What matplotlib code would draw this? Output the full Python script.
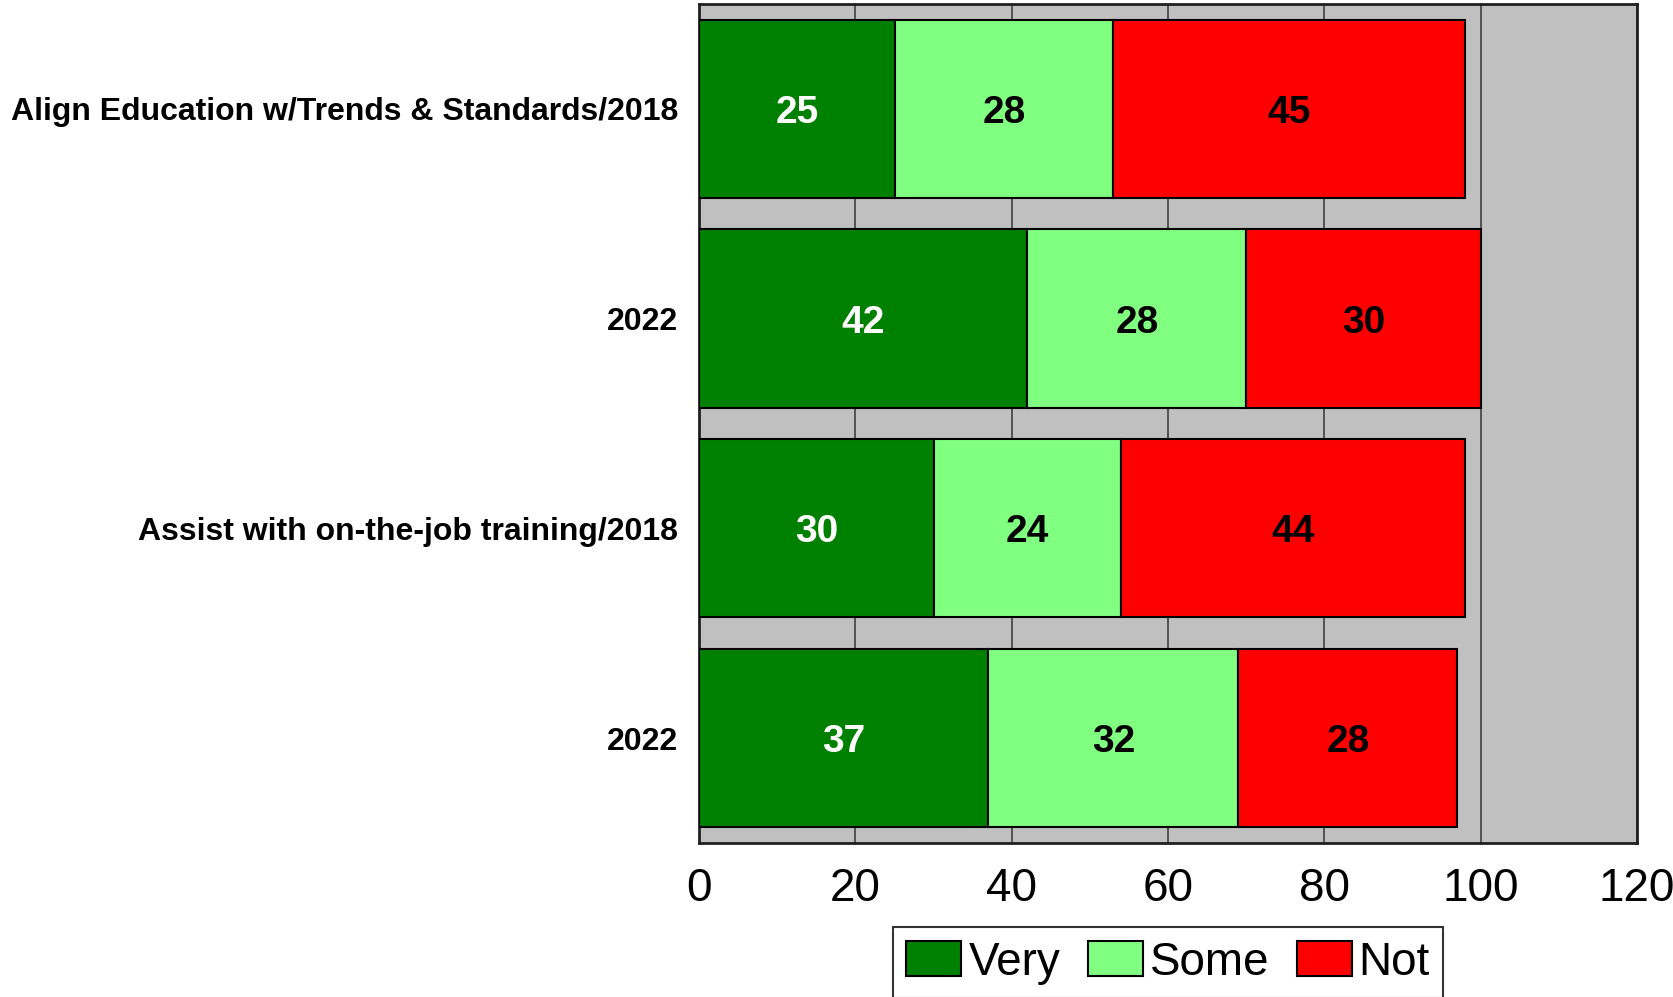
import matplotlib.pyplot as plt
import numpy as np

plt.rcParams['font.family'] = ['Liberation Sans', 'DejaVu Sans']

labels = ['Align Education w/Trends & Standards/2018', '2022',
          'Assist with on-the-job training/2018', '2022']
very = [25, 42, 30, 37]
some = [28, 28, 24, 32]
not_ = [45, 30, 44, 28]
series = ['Very', 'Some', 'Not']
colors = ['#008000', '#80FF80', '#FF0000']
text_colors = ['white', 'black', 'black']

fig = plt.figure(figsize=(16.74, 9.97), dpi=100)
ax = fig.add_axes([0.4176, 0.1545, 0.978 - 0.4176, 0.996 - 0.1545])
ax.set_facecolor('#C0C0C0')

y = np.arange(len(labels))
left = np.zeros(len(labels))
for name, vals, c, tc in zip(series, [very, some, not_], colors, text_colors):
    vals = np.array(vals, dtype=float)
    ax.barh(y, vals, left=left, height=0.85, color=c, edgecolor='black',
            linewidth=1.5, label=name, zorder=3)
    for yi, l, v in zip(y, left, vals):
        ax.text(l + v / 2, yi, str(int(v)), ha='center', va='center_baseline',
                fontsize=28, fontweight='bold', color=tc, zorder=4)
    left += vals

ax.set_xlim(0, 120)
ax.set_ylim(3.5, -0.5)
ax.set_xticks(range(0, 121, 20))
ax.set_yticks(y)
ax.set_yticklabels(labels, fontsize=23, fontweight='bold')
ax.tick_params(axis='x', labelsize=33, length=0, pad=17)
ax.tick_params(axis='y', length=0, pad=15)
ax.grid(axis='x', color='#404040', linewidth=1.2, zorder=1)
for s in ax.spines.values():
    s.set_linewidth(2)
    s.set_color('#202020')

leg = ax.legend(loc='upper center', bbox_to_anchor=(0.5, -0.1), ncol=3,
                fontsize=33, frameon=True, fancybox=False, edgecolor='black',
                handlelength=1.2, handleheight=0.8, handletextpad=0.15,
                columnspacing=0.6, borderpad=0.3, borderaxespad=0)
leg.get_frame().set_linewidth(1.5)

fig.savefig('out.png', dpi=100)
